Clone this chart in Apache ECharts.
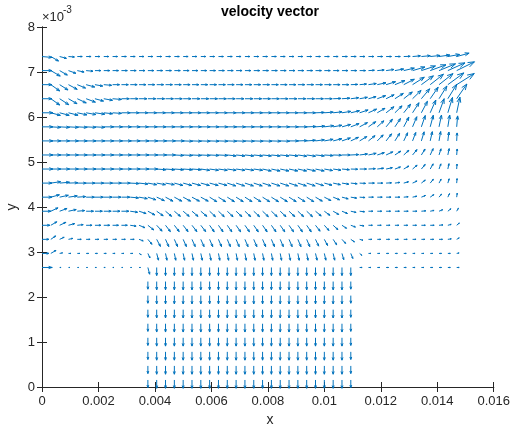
<!DOCTYPE html>
<html><head><meta charset="utf-8">
<script src="https://cdn.jsdelivr.net/npm/echarts@6/dist/echarts.min.js"></script>
<style>html,body{margin:0;padding:0;background:#fff}#c{width:513px;height:428px}</style>
</head><body><div id="c"></div>
<script>
// grid node coordinates (x columns, y rows)
const xs = [0,0.0003125,0.000625,0.0009375,0.00125,0.0015625,0.001875,0.0021875,0.0025,0.0028125,
0.003125,0.0034375,0.00375,0.0040625,0.004375,0.0046875,0.005,0.0053125,0.005625,0.0059375,
0.00625,0.0065625,0.006875,0.0071875,0.0075,0.0078125,0.008125,0.0084375,0.00875,0.0090625,
0.009375,0.0096875,0.01,0.0103125,0.010625,0.0109375,0.01125,0.0115625,0.011875,0.0121875,
0.0125,0.0128125,0.013125,0.0134375,0.01375,0.0140625,0.014375,0.0146875];
const ys = [0.00015625,0.00046875,0.00078125,0.00109375,0.00140625,0.00171875,0.00203125,0.00234375,
0.00265625,0.00296875,0.00328125,0.00359375,0.00390625,0.00421875,0.00453125,0.00484375,
0.00515625,0.00546875,0.00578125,0.00609375,0.00640625,0.00671875,0.00703125,0.00734375];

// velocity components, full-width rows (48 columns)
const u23 = [3.5,2.73,2.4,2.1,
1.75,1.75,1.75,1.75,1.75,1.75,1.75,1.75,1.75,1.75,
1.75,1.75,1.75,1.75,1.75,1.75,1.75,1.75,1.75,1.75,
1.75,1.75,1.75,1.75,1.75,1.75,1.75,1.75,1.75,1.75,
1.9,1.9,1.9,1.9,1.9,1.9,1.9,
2.27,2.78,3.13,3.48,3.81,4.14,4.4];
const v23 = [-0.2,-1.0,-0.4,-0.1,
0,0,0,0,0,0,0,0,0,0, 0,0,0,0,0,0,0,0,0,0, 0,0,0,0,0,0,0,0,0,0,
0,0,0,0,0,0,0,
0.05,0.15,0.19,0.23,0.34,0.46,0.75];

const u22 = [3.5,3.33,2.73,2.63,2.4,2.44,
2.1,2.1,2.1,2.1,2.1,2.1,2.1,2.1,2.1,2.1,
2.1,2.1,2.1,2.1,2.1,2.1,2.1,2.1,2.1,2.1,
2.1,2.1,2.1,2.1,2.1,2.1,2.1,2.1,2.1,2.1,
2.1,
2.1,2.44,2.77,3.1,3.75,4.37,4.98,5.59,5.84,6.08,6.3];
const v22 = [0,-1.22,-1.0,-0.6,-0.32,-0.14,
0,0,0,0,0,0,0,0,0,0, 0,0,0,0,0,0,0,0,0,0, 0,0,0,0,0,0,0,0,0,0,
0,
0.07,0.14,0.25,0.35,0.55,0.8,1.03,1.29,1.5,1.72,1.95];

const u21 = [3.5,3.15,2.97,3.09,2.92,3.04,2.76,2.79,
2.45,2.45,2.45,2.45,2.45,2.45,2.45,2.45,2.45,2.45,
2.45,2.45,2.45,2.45,2.45,2.45,2.45,2.45,2.45,2.45,
2.45,2.45,2.45,2.45,2.45,2.45,2.45,
2.45,2.44,2.77,3.08,3.35,3.57,3.74,4.15,4.25,4.69,4.96,5.66,6.23];
const v21 = [0,-1.4,-1.18,-1.04,-0.75,-0.52,-0.31,-0.15,
0,0,0,0,0,0,0,0,0,0, 0,0,0,0,0,0,0,0,0,0, 0,0,0,0,0,0,0,
0.05,0.14,0.25,0.41,0.65,0.91,1.21,1.65,1.96,2.32,2.46,2.61,2.47];

const u20 = [3.5,3.15,3.23,3.03,3.17,3.29,3.04,3.1,3.14,
2.8,2.8,2.8,2.8,2.8,2.8,2.8,2.8,2.8,2.8,
2.8,2.8,2.8,2.8,2.8,2.8,2.8,2.8,2.8,2.8,
2.8,2.8,2.8,2.8,
2.8,2.79,2.78,2.76,2.7,2.96,2.83,2.97,3.03,3.02,2.92,2.81,2.78,3.15,3.61];
const v20 = [0,-1.4,-1.33,-1.11,-0.94,-0.76,-0.52,-0.35,-0.17,
0,0,0,0,0,0,0,0,0,0, 0,0,0,0,0,0,0,0,0,0, 0,0,0,0,
0.06,0.12,0.22,0.31,0.46,0.68,0.88,1.18,1.5,1.85,2.21,2.55,2.82,3.2,3.27];

const u19 = [3.85,3.38,3.38,3.4,3.42,3.45,3.47,3.13,3.14,
3.15,3.15,3.15,3.15,3.15,3.15,3.15,3.15,3.15,3.15,
3.15,3.15,3.15,3.15,3.15,3.15,3.15,3.15,3.15,3.15,
3.15,3.15,
3.15,3.14,3.13,3.11,3.07,3.0,2.88,2.73,2.8,2.52,2.42,2.29,2.14,1.99,1.8,1.64,1.16];
const v19 = [0,-0.57,-0.57,-0.54,-0.46,-0.39,-0.31,-0.21,-0.14,
0,0,0,0,0,0,0,0,0,0, 0,0,0,0,0,0,0,0,0,0, 0,0,
0.07,0.14,0.21,0.31,0.45,0.62,0.81,1.0,1.34,1.54,1.9,2.23,2.55,2.84,3.13,3.4,3.47];

const u18 = [3.85,
3.5,3.5,3.5,3.5,3.5,3.5,3.5,3.5,3.5,3.5,
3.3,3.3,3.3,3.3,3.3,3.3,3.3,3.3,3.3,3.3,
3.3,3.3,3.3,3.3,3.3,3.3,3.3,3.3,3.3,
3.32,3.32,3.3,3.1,3.04,2.94,2.78,2.58,2.34,2.25,1.96,1.81,1.5,1.37,1.09,0.87,0.66,0.34];
const v18 = [0,
-0.12,-0.12,-0.12,-0.12,-0.12,-0.12,0,0,0,0,
0,0,0,0,0,0,0,0,0,0, 0,0,0,0,0,0,0,0,0,
0.07,0.15,0.26,0.35,0.52,0.72,0.94,1.15,1.34,1.7,1.84,2.16,2.25,2.52,2.57,2.61,2.63,2.43];

const u17 = [3.85,
3.5,3.5,3.5,3.5,3.5,3.5,3.5,3.5,3.5,3.5,3.5,3.5,3.5,3.5,3.5,
3.32,3.32,3.32,3.32,3.32,3.32,3.32,3.32,3.32,3.32,3.32,3.32,
3.32,3.32,3.14,3.13,3.1,3.06,2.98,2.7,2.55,2.34,2.1,1.94,1.67,1.38,1.13,0.97,0.75,0.58,0.38,0.15];
const v17 = [0,
0,0,0,0,0,0,0,0,0,0,0,0,0,0,0,
-0.07,-0.07,-0.07,-0.07,-0.07,-0.07,-0.07,-0.07,-0.07,-0.07,-0.07,-0.07,
0,0.07,0.14,0.24,0.35,0.48,0.65,0.8,0.97,1.16,1.33,1.57,1.69,1.8,1.87,2.02,2.05,2.08,1.98,1.77];

const u16 = [3.85,
3.5,3.5,3.5,3.5,3.5,3.5,3.5,3.5,3.5,3.5,3.5,3.5,3.5,3.5,
3.32,3.32,3.32,3.32,3.32,3.32,
3.13,3.13,3.13,3.13,3.13,3.13,3.13,3.13,
3.12,3.12,3.13,3.14,2.97,2.97,2.8,2.78,2.74,2.5,2.38,2.05,1.82,1.57,1.3,1.04,0.7,0.47,0.18];
const v16 = [0,
0,0,0,0,0,0,0,0,0,0,0,0,0,0,
-0.11,-0.11,-0.11,-0.11,-0.11,-0.11,
-0.21,-0.21,-0.21,-0.21,-0.21,-0.21,-0.21,-0.21,
-0.28,-0.28,-0.21,-0.14,-0.07,0,0.09,0.22,0.37,0.51,0.7,0.85,1.04,1.19,1.32,1.41,1.37,1.41,1.33];

const u15 = [3.85,
3.5,3.5,3.5,3.5,3.5,3.5,3.5,3.5,3.5,3.5,3.5,3.5,
3.32,3.32,3.32,3.32,3.32,
3.12,3.12,3.12,3.12,3.12,3.12,3.12,
3.08,3.08,3.08,3.08,3.08,3.08,3.08,
2.93,2.77,2.62,2.45,2.45,2.45,2.26,2.23,1.97,1.82,1.61,1.35,1.05,0.66,0.4,0.12];
const v15 = [0,
0,0,0,0,0,0,0,0,0,0,0,0,
-0.15,-0.15,-0.15,-0.15,-0.15,
-0.28,-0.28,-0.28,-0.28,-0.28,-0.28,-0.28,
-0.42,-0.42,-0.42,-0.42,-0.42,-0.42,-0.42,
-0.33,-0.25,-0.15,-0.05,0,0.08,0.18,0.3,0.46,0.67,0.86,1.02,1.15,1.15,1.19,1.11];

const u14 = [3.5,3.47,3.49,3.32,
3.15,3.15,3.15,3.15,3.15,3.15,
3.15,3.13,
3.1,3.1,3.1,
3.04,3.04,3.04,3.04,3.04,3.04,
3.0,3.0,3.0,3.0,3.0,3.0,3.0,3.0,3.0,3.0,
2.84,2.7,2.57,2.42,2.26,2.1,2.1,1.93,1.92,1.73,1.69,1.59,1.38,1.12,0.74,0.46,0.14];
const v14 = [0,0.31,0.19,0.07,
0,0,0,0,0,0,
-0.1,-0.21,
-0.35,-0.35,-0.35,
-0.52,-0.52,-0.52,-0.52,-0.52,-0.52,
-0.62,-0.62,-0.62,-0.62,-0.62,-0.62,-0.62,-0.62,-0.62,-0.62,
-0.55,-0.46,-0.35,-0.24,-0.15,-0.07,0,0,0.06,0.15,0.29,0.47,0.68,0.85,0.88,0.96,1.0];

const u13 = [3.5,3.04,3.08,3.12,2.97,
2.98,2.98,2.98,2.98,2.98,
2.96,2.93,2.83,2.72,
2.63,2.63,2.63,2.63,2.63,
2.52,2.52,2.52,2.52,2.52,2.52,2.52,2.52,2.52,2.52,2.52,2.52,
2.42,2.34,2.27,2.2,2.07,1.92,
1.75,1.75,1.75,1.75,
1.57,1.54,1.46,1.29,0.9,0.59,0.19];
const v13 = [0,0.52,0.42,0.28,0.13,
0,0,0,0,0,
-0.16,-0.33,-0.58,-0.77,
-0.89,-0.89,-0.89,-0.89,-0.89,
-1.0,-1.0,-1.0,-1.0,-1.0,-1.0,-1.0,-1.0,-1.0,-1.0,-1.0,-1.0,
-0.89,-0.76,-0.58,-0.37,-0.21,-0.09,
0,0,0,0,
0.09,0.21,0.37,0.57,0.68,0.8,0.88];

const u12 = [3.15,2.54,2.63,2.74,2.62,
2.63,2.63,2.63,2.63,2.63,
2.6,2.5,2.47,2.29,
2.14,2.14,2.14,2.14,2.14,
2.05,2.05,2.05,2.05,2.05,2.05,2.05,2.05,2.05,2.05,2.05,2.05,
2.01,1.98,1.97,1.95,1.88,1.74,
1.58,1.58,1.58,1.58,1.58,1.58,
1.57,1.37,1.3,1.1,0.61];
const v12 = [0,0.75,0.61,0.37,0.15,
0,0,0,0,0,
-0.23,-0.51,-0.83,-1.02,
-1.14,-1.14,-1.14,-1.14,-1.14,
-1.21,-1.21,-1.21,-1.21,-1.21,-1.21,-1.21,-1.21,-1.21,-1.21,-1.21,-1.21,
-1.07,-0.91,-0.72,-0.5,-0.27,-0.12,
0,0,0,0,0,0,
0.09,0.18,0.33,0.55,0.67];

const u11 = [2.8,2.12,2.22,2.2,2.09,
2.1,2.1,2.1,2.1,2.1,
2.08,2.11,2.07,1.91,
1.72,1.72,1.72,1.72,1.72,
1.61,1.61,1.61,1.61,1.61,1.61,1.61,1.61,1.61,1.61,1.61,1.61,
1.62,1.64,1.69,1.61,1.64,1.56,
1.4,1.4,1.4,1.4,1.4,1.4,1.4,1.4,
1.39,1.18,0.94];
const v11 = [0,0.78,0.66,0.37,0.14,
0,0,0,0,0,
-0.19,-0.54,-1.03,-1.3,
-1.4,-1.4,-1.4,-1.4,-1.4,
-1.45,-1.45,-1.45,-1.45,-1.45,-1.45,-1.45,-1.45,-1.45,-1.45,-1.45,-1.45,
-1.31,-1.15,-0.97,-0.67,-0.38,-0.14,
0,0,0,0,0,0,0,0,
0.08,0.2,0.5];

const u10 = [2.45,1.72,1.59,1.54,
1.4,1.4,1.4,1.4,1.4,1.4,1.4,
1.48,1.46,1.31,
1.14,1.14,1.14,1.14,1.14,
1.09,1.09,1.09,1.09,1.09,1.09,1.09,1.09,1.09,1.09,1.09,1.09,
1.11,1.15,1.24,1.29,1.29,1.18,
1.23,1.23,1.23,1.23,1.23,1.23,1.23,1.23,1.23,
1.21,0.91];
const v10 = [0,0.76,0.47,0.21,
0,0,0,0,0,0,0,
-0.34,-1.1,-1.57,
-1.62,-1.62,-1.62,-1.62,-1.62,
-1.63,-1.63,-1.63,-1.63,-1.63,-1.63,-1.63,-1.63,-1.63,-1.63,-1.63,-1.63,
-1.51,-1.37,-1.21,-0.91,-0.57,-0.2,
0,0,0,0,0,0,0,0,0,
0.11,0.33];

const u9 = [2.45,1.82,1.03,
0.88,0.88,0.88,0.88,0.88,0.88,0.88,0.88,
0.76,0.74,0.63,
0.51,0.51,0.51,0.51,0.51,
0.47,0.47,0.47,0.47,0.47,0.47,0.47,0.47,0.47,0.47,0.47,0.47,
0.55,0.55,0.55,
0.63,0.72,0.8,
0.88,0.88,0.88,0.88,0.88,0.88,0.88,0.88,0.88,0.88,
0.86];
const v9 = [0,0.67,0.12,
0,0,0,0,0,0,0,0,
-0.28,-1.01,-1.5,
-1.52,-1.52,-1.52,-1.52,-1.52,
-1.53,-1.53,-1.53,-1.53,-1.53,-1.53,-1.53,-1.53,-1.53,-1.53,-1.53,-1.53,
-1.51,-1.51,-1.51,
-1.39,-1.13,-0.43,
0,0,0,0,0,0,0,0,0,0,
0.1];

const u8 = [3.5,
0.5,0.5,0.5,0.5,0.5,0.5,0.5,0.5,0.5,0.5,0.5,
0.63,
0,0,0,0,0,0,0,0,0,0,0,0,0,0,0,0,0,0,0,0,0,0,0,
0.88,0.88,0.88,0.88,0.88,0.88,0.88,0.88,0.88,0.88,0.88,0.88];
const v8 = [0,
0,0,0,0,0,0,0,0,0,0,0,
-1.5,
-1.8,-1.8,-1.8,-1.8,-1.8,-1.8,-1.8,-1.8,-1.8,-1.8,-1.8,-1.8,-1.8,-1.8,-1.8,-1.8,-1.8,-1.8,-1.8,-1.8,-1.8,-1.8,-1.8,
0,0,0,0,0,0,0,0,0,0,0,0];

// channel rows (columns 12..35 only, 24 columns)
const uCh7 = [0,0,0,0,0,0,0,0,0,0,0,0,0,0,0,0,0,0,0,0,0,0,0,0];
const vCh7 = [-1.7,-1.85,-1.85,-1.85,-1.85,-1.85,-1.85,-1.85,-1.85,-1.85,-1.85,-1.85,-1.85,-1.85,-1.85,-1.85,-1.85,-1.85,-1.85,-1.85,-1.85,-1.85,-1.85,-1.7];
const uCh6 = [0,0,0,0,0,0,0,0,0,0,0,0,0,0,0,0,0,0,0,0,0,0,0,0];
const vCh6 = [-1.7,-1.85,-1.85,-1.85,-1.85,-1.85,-1.85,-1.85,-1.85,-1.85,-1.85,-1.85,-1.85,-1.85,-1.85,-1.85,-1.85,-1.85,-1.85,-1.85,-1.85,-1.85,-1.85,-1.7];
const uCh5 = [0,0,0,0,0,0,0,0,0,0,0,0,0,0,0,0,0,0,0,0,0,0,0,0];
const vCh5 = [-1.7,-1.85,-1.85,-1.85,-1.85,-1.85,-1.85,-1.85,-1.85,-1.85,-1.85,-1.85,-1.85,-1.85,-1.85,-1.85,-1.85,-1.85,-1.85,-1.85,-1.85,-1.85,-1.85,-1.7];
const uCh4 = [0,0,0,0,0,0,0,0,0,0,0,0,0,0,0,0,0,0,0,0,0,0,0,0];
const vCh4 = [-1.7,-1.85,-1.85,-1.85,-1.85,-1.85,-1.85,-1.85,-1.85,-1.85,-1.85,-1.85,-1.85,-1.85,-1.85,-1.85,-1.85,-1.85,-1.85,-1.85,-1.85,-1.85,-1.85,-1.7];
const uCh3 = [0,0,0,0,0,0,0,0,0,0,0,0,0,0,0,0,0,0,0,0,0,0,0,0];
const vCh3 = [-1.7,-1.85,-1.85,-1.85,-1.85,-1.85,-1.85,-1.85,-1.85,-1.85,-1.85,-1.85,-1.85,-1.85,-1.85,-1.85,-1.85,-1.85,-1.85,-1.85,-1.85,-1.85,-1.85,-1.7];
const uCh2 = [0,0,0,0,0,0,0,0,0,0,0,0,0,0,0,0,0,0,0,0,0,0,0,0];
const vCh2 = [-1.7,-1.85,-1.85,-1.85,-1.85,-1.85,-1.85,-1.85,-1.85,-1.85,-1.85,-1.85,-1.85,-1.85,-1.85,-1.85,-1.85,-1.85,-1.85,-1.85,-1.85,-1.85,-1.85,-1.7];
const uCh1 = [0,0,0,0,0,0,0,0,0,0,0,0,0,0,0,0,0,0,0,0,0,0,0,0];
const vCh1 = [-1.7,-1.85,-1.85,-1.85,-1.85,-1.85,-1.85,-1.85,-1.85,-1.85,-1.85,-1.85,-1.85,-1.85,-1.85,-1.85,-1.85,-1.85,-1.85,-1.85,-1.85,-1.85,-1.85,-1.7];
const uCh0 = [0,0,0,0,0,0,0,0,0,0,0,0,0,0,0,0,0,0,0,0,0,0,0,0];
const vCh0 = [-1.7,-1.85,-1.85,-1.85,-1.85,-1.85,-1.85,-1.85,-1.85,-1.85,-1.85,-1.85,-1.85,-1.85,-1.85,-1.85,-1.85,-1.85,-1.85,-1.85,-1.85,-1.85,-1.85,-1.7];
const channelFirstCol = 12;

const xTicks = [0,0.002,0.004,0.006,0.008,0.01,0.012,0.014,0.016];
const yTickLabels = ['0','1','2','3','4','5','6','7','8'];

// ---- build dataset ----
const fullRows = [[23,u23,v23],[22,u22,v22],[21,u21,v21],[20,u20,v20],[19,u19,v19],[18,u18,v18],
[17,u17,v17],[16,u16,v16],[15,u15,v15],[14,u14,v14],[13,u13,v13],[12,u12,v12],[11,u11,v11],
[10,u10,v10],[9,u9,v9],[8,u8,v8]];
const chRows = [[7,uCh7,vCh7],[6,uCh6,vCh6],[5,uCh5,vCh5],[4,uCh4,vCh4],[3,uCh3,vCh3],[2,uCh2,vCh2],[1,uCh1,vCh1],[0,uCh0,vCh0]];
const data = [];
fullRows.forEach(([j,u,v])=>{
  if(u.length!==48||v.length!==48) throw new Error('row '+j+' length '+u.length+'/'+v.length);
  for(let i=0;i<48;i++) data.push([xs[i], ys[j], u[i], v[i]]);
});
chRows.forEach(([j,u,v])=>{
  if(u.length!==24||v.length!==24) throw new Error('ch row '+j);
  for(let k=0;k<24;k++) data.push([xs[channelFirstCol+k], ys[j], u[k], v[k]]);
});

const SCALE = 1e-4;      // quiver scale (data units per velocity unit)
const COLOR = '#0072BD';
const LW = 1;
const AXC = '#262626';
const FONT = '"Liberation Sans", Arial, Helvetica, sans-serif';

function renderItem(params, api){
  const x=api.value(0), y=api.value(1), u=api.value(2), v=api.value(3);
  const p0=api.coord([x,y]);
  const p1=api.coord([x+u*SCALE, y+v*SCALE]);
  const dx=p1[0]-p0[0], dy=p1[1]-p0[1];
  const len=Math.hypot(dx,dy);
  const children=[{type:'line', shape:{x1:p0[0],y1:p0[1],x2:p1[0],y2:p1[1]}, style:{stroke:COLOR,lineWidth:LW}}];
  if(len>0.2){
    const ux=dx/len, uy=dy/len, h=len*0.33, w=len*0.12;
    children.push({type:'polyline', shape:{points:[
      [p1[0]-h*ux+w*uy, p1[1]-h*uy-w*ux],[p1[0],p1[1]],[p1[0]-h*ux-w*uy, p1[1]-h*uy+w*ux]]},
      style:{stroke:COLOR,lineWidth:LW,fill:null}});
  }
  return {type:'group', children};
}

const chart = echarts.init(document.getElementById('c'), null, {renderer:'canvas'});
const axisCommon = {
  axisLine:{show:true, lineStyle:{color:AXC, width:1}},
  axisTick:{show:true, inside:true, length:5, lineStyle:{color:AXC, width:1}},
  splitLine:{show:false}
};
chart.setOption({
  animation:false,
  backgroundColor:'#fff',
  grid:{left:42, top:27, right:14, bottom:41, containLabel:false},
  xAxis:[
    Object.assign({type:'value', min:0, max:0.016, interval:0.002, position:'bottom',
      axisLabel:{color:AXC, fontFamily:FONT, fontSize:13, margin:8,
        formatter:v=>{const t=xTicks.find(a=>Math.abs(a-v)<1e-9); return t===undefined?'':String(t);}}}, axisCommon),
    Object.assign({type:'value', min:0, max:0.016, interval:0.002, position:'top', axisLabel:{show:false}}, axisCommon)
  ],
  yAxis:[
    Object.assign({type:'value', min:0, max:0.008, interval:0.001, position:'left',
      axisLabel:{color:AXC, fontFamily:FONT, fontSize:13, margin:7,
        formatter:v=>yTickLabels[Math.round(v*1000)]}}, axisCommon),
    Object.assign({type:'value', min:0, max:0.008, interval:0.001, position:'right', axisLabel:{show:false}}, axisCommon)
  ],
  graphic:[
    {type:'text', x:270, y:12, style:{text:'velocity vector', font:'bold 14px '+FONT, fill:'#000', align:'center', verticalAlign:'middle'}},
    {type:'text', x:270, y:420, style:{text:'x', font:'14px '+FONT, fill:AXC, align:'center', verticalAlign:'middle'}},
    {type:'text', x:12, y:207, rotation:Math.PI/2, style:{text:'y', font:'14px '+FONT, fill:AXC, align:'center', verticalAlign:'middle'}},
    {type:'text', x:42, y:17, style:{text:'\u00d710', font:'13px '+FONT, fill:AXC, align:'left', verticalAlign:'middle'}},
    {type:'text', x:63, y:10, style:{text:'-3', font:'10px '+FONT, fill:AXC, align:'left', verticalAlign:'middle'}}
  ],
  series:[{
    type:'custom', coordinateSystem:'cartesian2d', xAxisIndex:0, yAxisIndex:0,
    renderItem, data, encode:{x:0, y:1}, silent:true, clip:false
  }]
});
</script></body></html>
